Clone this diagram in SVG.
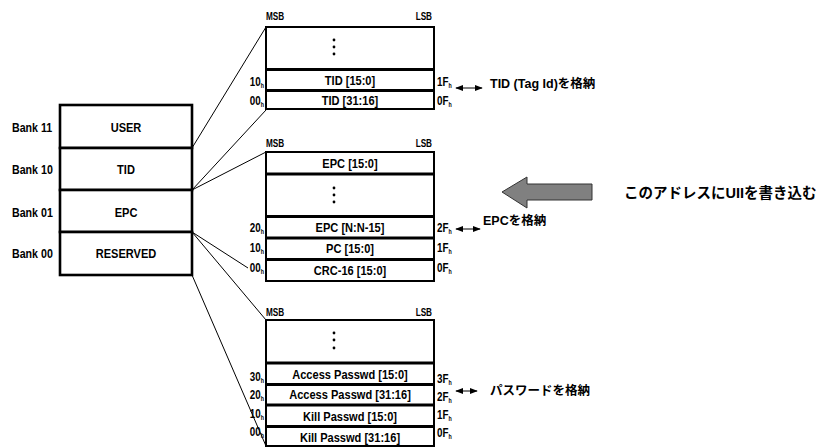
<svg xmlns="http://www.w3.org/2000/svg" width="816" height="447" viewBox="0 0 816 447">
<defs>
<style>
text{font-family:"Liberation Sans",Arial,"Noto Sans CJK JP",sans-serif;font-weight:bold;fill:#000}
.c{font-size:13.5px;text-anchor:middle}
.bk{font-size:13px}
.ms{font-size:10px}
.ad{font-size:12px}
.adl{font-size:12px;text-anchor:end}
.sub{font-size:6.5px}
.cell{fill:#fff;stroke:#000;stroke-width:2}
.bank{fill:#fff;stroke:#000;stroke-width:2.6}
.ln{stroke:#000;stroke-width:1;fill:none}
.note{font-size:12.5px}
.dot{fill:#000}
</style>
<marker id="ah" viewBox="0 0 10 10" refX="9" refY="5" markerWidth="8" markerHeight="8" markerUnits="userSpaceOnUse" orient="auto-start-reverse">
<path d="M0,1 L10,5 L0,9 z" fill="#000"/>
</marker>
</defs>
<rect width="816" height="447" fill="#fff"/>

<g id="connectors">
<line class="ln" x1="192" y1="148" x2="266" y2="27"/>
<line class="ln" x1="192" y1="190" x2="266" y2="110"/>
<line class="ln" x1="192" y1="190" x2="266" y2="152"/>
<line class="ln" x1="192" y1="232" x2="248" y2="268"/>
<line class="ln" x1="192" y1="232" x2="266" y2="320"/>
<line class="ln" x1="192" y1="275" x2="266" y2="446"/>
<line class="ln" x1="456" y1="88" x2="482" y2="88" stroke-width="1.5" marker-start="url(#ah)" marker-end="url(#ah)"/>
<line class="ln" x1="456" y1="229" x2="480" y2="229" stroke-width="1.5" marker-start="url(#ah)" marker-end="url(#ah)"/>
<line class="ln" x1="456" y1="391" x2="477" y2="391" stroke-width="1.5" marker-start="url(#ah)" marker-end="url(#ah)"/>
</g>

<g id="bank-box">
<rect class="bank" x="60" y="105" width="132" height="43"/>
<rect class="bank" x="60" y="148" width="132" height="42"/>
<rect class="bank" x="60" y="190" width="132" height="42"/>
<rect class="bank" x="60" y="232" width="132" height="43"/>
<text class="c" transform="matrix(0.82 0 0 1 126 132)">USER</text>
<text class="c" transform="matrix(0.82 0 0 1 126 174)">TID</text>
<text class="c" transform="matrix(0.82 0 0 1 126 217)">EPC</text>
<text class="c" transform="matrix(0.82 0 0 1 126 258)">RESERVED</text>
<text class="bk" transform="matrix(0.82 0 0 1 12 132)">Bank 11</text>
<text class="bk" transform="matrix(0.82 0 0 1 12 174)">Bank 10</text>
<text class="bk" transform="matrix(0.82 0 0 1 12 217)">Bank 01</text>
<text class="bk" transform="matrix(0.82 0 0 1 12 258)">Bank 00</text>
</g>

<g id="tid-block">
<text class="ms" transform="matrix(0.82 0 0 1 266 20)">MSB</text>
<text class="ms" text-anchor="end" transform="matrix(0.82 0 0 1 432 20)">LSB</text>
<rect class="cell" x="266" y="27" width="168" height="42"/>
<rect class="cell" x="266" y="70" width="168" height="20"/>
<rect class="cell" x="266" y="91" width="168" height="18"/>
<circle class="dot" cx="334" cy="40" r="1.4"/>
<circle class="dot" cx="334" cy="47" r="1.4"/>
<circle class="dot" cx="334" cy="54" r="1.4"/>
<text class="c" transform="matrix(0.82 0 0 1 350 85)">TID [15:0]</text>
<text class="c" transform="matrix(0.82 0 0 1 350 105)">TID [31:16]</text>
<text class="adl" transform="matrix(0.82 0 0 1 264 86)">10<tspan class="sub" dy="2">h</tspan></text>
<text class="adl" transform="matrix(0.82 0 0 1 264 105)">00<tspan class="sub" dy="2">h</tspan></text>
<text class="ad" transform="matrix(0.82 0 0 1 437 86)">1F<tspan class="sub" dy="2">h</tspan></text>
<text class="ad" transform="matrix(0.82 0 0 1 437 105)">0F<tspan class="sub" dy="2">h</tspan></text>
</g>

<g id="epc-block">
<text class="ms" transform="matrix(0.82 0 0 1 266 147)">MSB</text>
<text class="ms" text-anchor="end" transform="matrix(0.82 0 0 1 432 147)">LSB</text>
<rect class="cell" x="266" y="152" width="168" height="21.5"/>
<rect class="cell" x="266" y="174.5" width="168" height="41.5"/>
<rect class="cell" x="266" y="217" width="168" height="20.5"/>
<rect class="cell" x="266" y="238.5" width="168" height="20.5"/>
<rect class="cell" x="266" y="260" width="168" height="21"/>
<circle class="dot" cx="334" cy="188" r="1.4"/>
<circle class="dot" cx="334" cy="195" r="1.4"/>
<circle class="dot" cx="334" cy="202" r="1.4"/>
<text class="c" transform="matrix(0.82 0 0 1 350 168)">EPC [15:0]</text>
<text class="c" transform="matrix(0.82 0 0 1 350 232)">EPC [N:N-15]</text>
<text class="c" transform="matrix(0.82 0 0 1 350 253)">PC [15:0]</text>
<text class="c" transform="matrix(0.82 0 0 1 350 275)">CRC-16 [15:0]</text>
<text class="adl" transform="matrix(0.82 0 0 1 264 232)">20<tspan class="sub" dy="2">h</tspan></text>
<text class="adl" transform="matrix(0.82 0 0 1 264 252)">10<tspan class="sub" dy="2">h</tspan></text>
<text class="adl" transform="matrix(0.82 0 0 1 264 272)">00<tspan class="sub" dy="2">h</tspan></text>
<text class="ad" transform="matrix(0.82 0 0 1 437 232)">2F<tspan class="sub" dy="2">h</tspan></text>
<text class="ad" transform="matrix(0.82 0 0 1 437 252)">1F<tspan class="sub" dy="2">h</tspan></text>
<text class="ad" transform="matrix(0.82 0 0 1 437 272)">0F<tspan class="sub" dy="2">h</tspan></text>
</g>

<g id="pw-block">
<text class="ms" transform="matrix(0.82 0 0 1 266 316)">MSB</text>
<text class="ms" text-anchor="end" transform="matrix(0.82 0 0 1 432 316)">LSB</text>
<rect class="cell" x="266" y="320" width="168" height="42.5"/>
<rect class="cell" x="266" y="363.5" width="168" height="20.5"/>
<rect class="cell" x="266" y="385" width="168" height="19.5"/>
<rect class="cell" x="266" y="405.5" width="168" height="20.5"/>
<rect class="cell" x="266" y="427" width="168" height="19"/>
<circle class="dot" cx="334" cy="333" r="1.4"/>
<circle class="dot" cx="334" cy="340" r="1.4"/>
<circle class="dot" cx="334" cy="348" r="1.4"/>
<text class="c" transform="matrix(0.82 0 0 1 350 379)">Access Passwd [15:0]</text>
<text class="c" transform="matrix(0.82 0 0 1 350 399)">Access Passwd [31:16]</text>
<text class="c" transform="matrix(0.82 0 0 1 350 421)">Kill Passwd [15:0]</text>
<text class="c" transform="matrix(0.82 0 0 1 350 442)">Kill Passwd [31:16]</text>
<text class="adl" transform="matrix(0.82 0 0 1 264 381)">30<tspan class="sub" dy="2">h</tspan></text>
<text class="adl" transform="matrix(0.82 0 0 1 264 399)">20<tspan class="sub" dy="2">h</tspan></text>
<text class="adl" transform="matrix(0.82 0 0 1 264 418)">10<tspan class="sub" dy="2">h</tspan></text>
<text class="adl" transform="matrix(0.82 0 0 1 264 436)">00<tspan class="sub" dy="2">h</tspan></text>
<text class="ad" transform="matrix(0.82 0 0 1 437 383)">3F<tspan class="sub" dy="2">h</tspan></text>
<text class="ad" transform="matrix(0.82 0 0 1 437 401)">2F<tspan class="sub" dy="2">h</tspan></text>
<text class="ad" transform="matrix(0.82 0 0 1 437 419)">1F<tspan class="sub" dy="2">h</tspan></text>
<text class="ad" transform="matrix(0.82 0 0 1 437 437)">0F<tspan class="sub" dy="2">h</tspan></text>
</g>

<g id="notes">
<text class="note" x="490" y="88">TID (Tag Id)を格納</text>
<text class="note" x="483" y="225">EPCを格納</text>
<text class="note" x="490" y="395">パスワードを格納</text>
</g>

<g id="write-arrow">
<polygon points="502,192 527,177 527,184 592,184 592,200 527,200 527,208" fill="#808080" stroke="#333" stroke-width="1"/>
</g>
<g id="write-note">
<text x="624" y="198" style="font-size:14.5px">このアドレスにUIIを書き込む</text>
</g>
</svg>
